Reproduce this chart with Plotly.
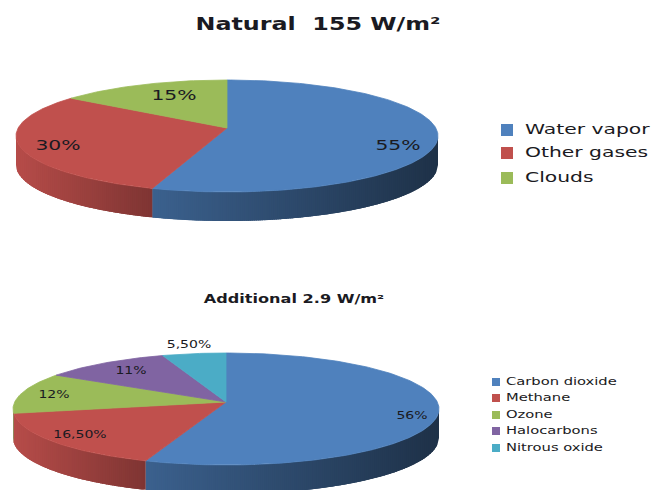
import math
import plotly.graph_objects as go

# ---- data ----
natural_title = "Natural  155 W/m²"
natural_names = ["Water vapor", "Other gases", "Clouds"]
natural_values = [55, 30, 15]
natural_labels = ["55%", "30%", "15%"]

additional_title = "Additional 2.9 W/m²"
additional_names = ["Carbon dioxide", "Methane", "Ozone", "Halocarbons", "Nitrous oxide"]
additional_values = [56, 16.5, 12, 11, 5.5]
additional_labels = ["56%", "16,50%", "12%", "11%", "5,50%"]

# ---- style ----
COLORS = [(79, 129, 189), (192, 80, 77), (155, 187, 89), (128, 100, 162), (75, 172, 198)]
SHADE = [(0.75, 0.38), (0.95, 0.66), (0.8, 0.6), (0.8, 0.6), (0.8, 0.6)]
FONT = "DejaVu Sans"
INK = "#1a1a22"
TEXT_STRETCH = 1.4

TOP = dict(cx=227, cy=136, rx=211, ry=56, apex=128, thick=29,
           label_xy=[(398, 146), (58, 146), (174, 96)], label_size=14.5,
           title_xy=(318, 26), title_size=17,
           swatch_x=507, text_x=525, legend_y=[130, 153, 178], legend_size=14.5, swatch=12)
BOTTOM = dict(cx=226, cy=409, rx=213, ry=56, apex=402, thick=29,
              label_xy=[(412, 416), (80, 435), (54, 395), (131, 371), (189, 345)], label_size=10,
              title_xy=(294, 300), title_size=11.5,
              swatch_x=496, text_x=506, legend_y=[382, 398, 415, 431, 448], legend_size=10.5, swatch=8)

fig = go.Figure()


def rgb(c, f=1.0):
    return "rgb(%d,%d,%d)" % tuple(round(v * f) for v in c)


def add_poly(xs, ys, color, edge=0.8):
    fig.add_trace(go.Scatter(x=xs, y=ys, mode="lines", fill="toself", fillcolor=color,
                             line=dict(color=color, width=edge), hoverinfo="skip", showlegend=False))


def add_text(x, y, text, size, pos="middle center", bold=False):
    font = dict(family=FONT, size=size, color=INK)
    if bold:
        font["weight"] = "bold"
    fig.add_trace(go.Scatter(x=[x], y=[y], mode="text", text=[text], textposition=pos,
                             textfont=font, hoverinfo="skip", showlegend=False))


def draw_pie(title, names, values, labels, g):
    total = sum(values)
    cx, cy, rx, ry = g["cx"], g["cy"], g["rx"], g["ry"]
    # tilt: the pie centre sits above the ellipse centre, so slice angles are
    # projected onto the rim with a disk map
    e = (cy - g["apex"]) / ry
    p = 1j * e / (1 + math.sqrt(1 - e * e))

    def project(deg):
        t = math.radians(deg)
        z = complex(math.sin(t), math.cos(t))
        w = (z + p) / (1 + p.conjugate() * z)
        return math.degrees(math.atan2(w.real, w.imag)) % 360

    def rim(deg):
        t = math.radians(deg)
        return cx + rx * math.sin(t), cy - ry * math.cos(t)

    def front_angle(x):
        return 180 - math.degrees(math.asin(max(-1, min(1, (x - cx) / rx))))

    spans, acc = [], 0.0
    for v in values:
        a = project(acc / total * 360)
        acc += v
        b = project(acc / total * 360)
        if b <= a:
            b += 360
        spans.append((a, b))

    # side wall: strips painted right to left, each running a little under the next
    for i, (a, b) in enumerate(spans):
        lo, hi = max(a, 90), min(b, 270)
        if lo >= hi:
            continue
        x_right, x_left = rim(lo)[0], rim(hi)[0]
        n = max(1, int((x_right - x_left) / 2))
        dark, light = SHADE[i][1], SHADE[i][0]
        for k in range(n):
            x0 = x_right + (x_left - x_right) * k / n
            x1 = max(x_left, x_right + (x_left - x_right) * (k + 1) / n - 3)
            xs = [x0 + (x1 - x0) * s / 3 for s in range(4)]
            top = [rim(front_angle(x)) for x in xs]
            f = dark + (light - dark) * (k + 0.5) / n
            add_poly([q[0] for q in top] + [q[0] for q in reversed(top)],
                     [q[1] for q in top] + [q[1] + g["thick"] for q in reversed(top)],
                     rgb(COLORS[i], f), edge=0)

    # top face
    for i, (a, b) in enumerate(spans):
        n = max(4, int(b - a))
        pts = [rim(a + (b - a) * k / n) for k in range(n + 1)]
        add_poly([cx] + [q[0] for q in pts] + [cx],
                 [g["apex"]] + [q[1] for q in pts] + [g["apex"]],
                 rgb(COLORS[i]))

    for (x, y), lab in zip(g["label_xy"], labels):
        add_text(x, y, lab, g["label_size"])

    add_text(g["title_xy"][0], g["title_xy"][1], title, g["title_size"], bold=True)

    # legend
    for i, (name, y) in enumerate(zip(names, g["legend_y"])):
        fig.add_trace(go.Scatter(x=[g["swatch_x"]], y=[y], mode="markers",
                                 marker=dict(symbol="square", size=g["swatch"], color=rgb(COLORS[i])),
                                 hoverinfo="skip", showlegend=False))
        add_text(g["text_x"], y, name, g["legend_size"], pos="middle right")


draw_pie(natural_title, natural_names, natural_values, natural_labels, TOP)
draw_pie(additional_title, additional_names, additional_values, additional_labels, BOTTOM)

fig.update_layout(
    width=658, height=490, margin=dict(l=0, r=0, t=0, b=0),
    paper_bgcolor="white", plot_bgcolor="white", showlegend=False,
    xaxis=dict(range=[0, 658], visible=False, fixedrange=True),
    yaxis=dict(range=[490, 0], visible=False, fixedrange=True),
)

post = """
document.body.style.margin = '0';
document.querySelectorAll('.textpoint text').forEach(function (el) {
  el.setAttribute('lengthAdjust', 'spacingAndGlyphs');
  el.setAttribute('textLength', el.getComputedTextLength() * %s);
});
""" % TEXT_STRETCH

fig.write_html("out.html", config=dict(displayModeBar=False), post_script=post)
